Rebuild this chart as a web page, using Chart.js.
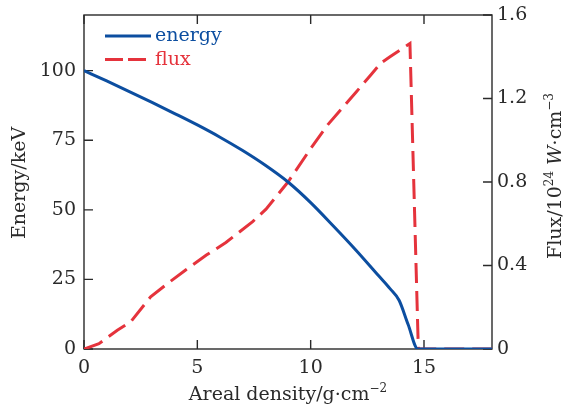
<!DOCTYPE html>
<html>
<head>
<meta charset="utf-8">
<script src="https://cdn.jsdelivr.net/npm/chart.js@4"></script>
<style>
html, body { margin: 0; padding: 0; background: #fff; }
</style>
</head>
<body>
<canvas id="myChart" width="563" height="408"></canvas>
<script>
// energy curve (keV) vs areal density (g/cm^2)
const energyX = [0, 1, 2, 3, 4, 5, 6, 7, 8, 9, 10, 11, 12, 13, 13.5, 13.9, 14.3, 14.73, 18];
const energyY = [100, 96.3, 92.5, 88.6, 84.6, 80.5, 76.1, 71.3, 66, 60, 52.6, 44.2, 35.5, 26.3, 21.7, 17.5, 8.8, 0, 0];

// flux (10^24 W/cm^3) vs areal density
const fluxX = [0, 0.66, 1.47, 2.06, 2.94, 3.7, 4.5, 5.4, 6.26, 7.44, 8.03, 9, 10, 10.76, 12, 12.67, 13.1, 13.5, 14.38, 14.75, 18];
const fluxY = [0, 0.025, 0.09, 0.13, 0.25, 0.315, 0.38, 0.45, 0.51, 0.61, 0.67, 0.8, 0.96, 1.075, 1.23, 1.315, 1.37, 1.4, 1.463, 0, 0];

// tick labels
const xTicks = [0, 5, 10, 15];
const energyTicks = [0, 25, 50, 75, 100];
const fluxTicks = [0, 0.4, 0.8, 1.2, 1.6];

const blue = "#0c4ea0";
const red = "#e5333c";
const ink = "#2a2a2a";
const serif = "'DejaVu Serif', serif";

function toPoints(xs, ys)
{
    return xs.map((x, i) => ({x: x, y: ys[i]}));
}

// draws text made of pieces (superscripts, italics), centred on cx along the baseline
function drawRich(ctx, parts, cx, cy, rot)
{
    ctx.save();
    ctx.translate(cx, cy);
    ctx.rotate(rot);
    ctx.fillStyle = ink;
    ctx.textBaseline = "alphabetic";
    ctx.textAlign = "left";
    let fontOf = p => (p.it ? "italic " : "") + (p.sup ? "12px " : "19px ") + serif;
    let total = 0;
    parts.forEach(p => {
        ctx.font = fontOf(p);
        p.w = ctx.measureText(p.t).width;
        total += p.w;
    });
    let x = -total / 2;
    parts.forEach(p => {
        ctx.font = fontOf(p);
        ctx.fillText(p.t, x, p.sup ? -8 : 0);
        x += p.w;
    });
    ctx.restore();
}

const frame = {
    id: "frame",
    beforeDatasetsDraw(chart)
    {
        let ctx = chart.ctx;
        let a = chart.chartArea;
        let sx = chart.scales.x, sl = chart.scales.y, sr = chart.scales.y2;
        let len = 9;
        ctx.save();
        ctx.strokeStyle = ink;
        ctx.lineWidth = 1.4;
        ctx.strokeRect(a.left, a.top, a.right - a.left, a.bottom - a.top);
        ctx.beginPath();
        xTicks.forEach(v => {
            let px = sx.getPixelForValue(v);
            ctx.moveTo(px, a.bottom); ctx.lineTo(px, a.bottom - len);
            ctx.moveTo(px, a.top); ctx.lineTo(px, a.top + len);
        });
        energyTicks.forEach(v => {
            let py = sl.getPixelForValue(v);
            ctx.moveTo(a.left, py); ctx.lineTo(a.left + len, py);
        });
        fluxTicks.forEach(v => {
            let py = sr.getPixelForValue(v);
            ctx.moveTo(a.right, py); ctx.lineTo(a.right - len, py);
        });
        ctx.stroke();
        ctx.restore();
    },
    afterDraw(chart)
    {
        let ctx = chart.ctx;
        let a = chart.chartArea;
        let midX = (a.left + a.right) / 2;
        let midY = (a.top + a.bottom) / 2;

        // legend inside the plot, top left
        ctx.save();
        chart.data.datasets.forEach((ds, i) => {
            let y = a.top + 21 + i * 23.5;
            ctx.strokeStyle = ds.borderColor;
            ctx.lineWidth = 3;
            ctx.setLineDash(ds.borderDash ? [18, 5] : []);
            ctx.beginPath();
            ctx.moveTo(a.left + 21, y);
            ctx.lineTo(a.left + 67, y);
            ctx.stroke();
            ctx.setLineDash([]);
            ctx.fillStyle = ds.borderColor;
            ctx.font = "19px " + serif;
            ctx.textBaseline = "alphabetic";
            ctx.fillText(ds.label, a.left + 71, y + 5);
        });
        ctx.restore();

        // axis titles
        drawRich(ctx, [{t: "Areal density/g\u00b7cm"}, {t: "\u22122", sup: true}], midX, 400, 0);
        drawRich(ctx, [{t: "Energy/keV"}], 25, midY + 1, -Math.PI / 2);
        drawRich(ctx, [{t: "Flux/10"}, {t: "24", sup: true}, {t: " "}, {t: "W", it: true},
            {t: "\u00b7cm"}, {t: "\u22123", sup: true}], 561, midY - 6, -Math.PI / 2);
    }
};

function fixedTicks(list)
{
    return scale => { scale.ticks = list.map(v => ({value: v})); };
}

function fitY(w)
{
    return scale => {
        scale.width = w;
        scale.paddingTop = 0;
        scale.paddingBottom = 0;
    };
}

const tickFont = {family: serif, size: 19};

new Chart("myChart", {
    type: "line",
    data: {
        datasets: [
            {
                label: "energy",
                data: toPoints(energyX, energyY),
                yAxisID: "y",
                borderColor: blue,
                borderWidth: 3,
                pointRadius: 0,
                cubicInterpolationMode: "monotone",
                fill: false
            },
            {
                label: "flux",
                data: toPoints(fluxX, fluxY),
                yAxisID: "y2",
                borderColor: red,
                borderWidth: 3,
                borderDash: [20, 8],
                pointRadius: 0,
                tension: 0,
                fill: false
            }
        ]
    },
    options: {
        responsive: false,
        animation: false,
        devicePixelRatio: 1,
        layout: {padding: {top: 15, left: 0, right: 0, bottom: 0}},
        plugins: {
            legend: {display: false},
            tooltip: {enabled: false}
        },
        scales: {
            x: {
                type: "linear",
                min: 0,
                max: 18,
                afterBuildTicks: fixedTicks(xTicks),
                afterFit: scale => {
                    scale.height = 59;
                    scale.paddingLeft = 0;
                    scale.paddingRight = 0;
                },
                grid: {display: false, drawTicks: false},
                border: {display: false},
                ticks: {font: tickFont, color: ink, padding: 8, maxRotation: 0}
            },
            y: {
                position: "left",
                min: 0,
                max: 120,
                afterBuildTicks: fixedTicks(energyTicks),
                afterFit: fitY(84),
                grid: {display: false, drawTicks: false},
                border: {display: false},
                ticks: {font: tickFont, color: ink, padding: 8}
            },
            y2: {
                position: "right",
                min: 0,
                max: 1.6,
                afterBuildTicks: fixedTicks(fluxTicks),
                afterFit: fitY(71),
                grid: {display: false, drawTicks: false},
                border: {display: false},
                ticks: {font: tickFont, color: ink, padding: 5, callback: v => v === 0 ? "0" : v.toFixed(1)}
            }
        }
    },
    plugins: [frame]
});
</script>
</body>
</html>
